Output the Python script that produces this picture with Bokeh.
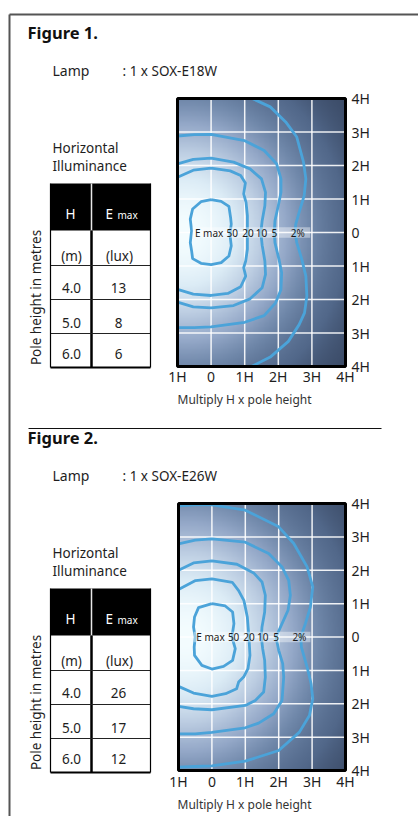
import numpy as np
from bokeh.plotting import figure
from bokeh.models import Range1d
from bokeh.core.properties import value
from bokeh.embed import file_html
from bokeh.resources import INLINE

# ---------------- data ----------------
figure_titles = ["Figure 1.", "Figure 2."]
lamp_types = [": 1 x SOX-E18W", ": 1 x SOX-E26W"]
pole_heights = ["4.0", "5.0", "6.0"]
emax_fig1 = ["13", "8", "6"]
emax_fig2 = ["26", "17", "12"]
x_ticks = [-1, 0, 1, 2, 3, 4]
x_tick_labels = ["1H", "0", "1H", "2H", "3H", "4H"]
y_ticks = [4, 3, 2, 1, 0, -1, -2, -3, -4]
y_tick_labels = ["4H", "3H", "2H", "1H", "0", "1H", "2H", "3H", "4H"]
contour_labels = ["E max", "50", "20", "10", "5", "2%"]
label_x_fig1 = [-0.06, 0.63, 1.10, 1.50, 1.88, 2.58]
label_x_fig2 = [-0.04, 0.65, 1.11, 1.52, 1.92, 2.62]

# Figure 1 isolux contours (H units)
f1_c50_x = [0.00, -0.30, -0.55, -0.62, -0.58, -0.62, -0.58, -0.55, -0.30, 0.00, 0.30, 0.53, 0.60, 0.56, 0.60, 0.58, 0.53, 0.30, 0.00]
f1_c50_y = [0.98, 0.92, 0.70, 0.40, 0.05, -0.30, -0.55, -0.78, -0.92, -0.96, -0.90, -0.70, -0.40, -0.05, 0.25, 0.45, 0.78, 0.93, 0.98]
f1_c20_x = [-1.0, -0.53, 0.0, 0.57, 0.88, 1.02, 0.97, 1.04, 1.08, 1.08, 1.08, 1.03, 0.97, 1.03, 0.88, 0.50, 0.0, -0.53, -1.0]
f1_c20_y = [1.65, 1.86, 1.92, 1.84, 1.70, 1.48, 1.15, 0.90, 0.50, 0.0, -0.50, -0.85, -1.05, -1.30, -1.62, -1.82, -1.88, -1.84, -1.70]
f1_c10_x = [-1.0, -0.53, 0.0, 0.67, 1.16, 1.50, 1.62, 1.60, 1.52, 1.48, 1.52, 1.60, 1.62, 1.52, 1.16, 0.67, 0.0, -0.53, -1.0]
f1_c10_y = [2.05, 2.18, 2.22, 2.10, 1.90, 1.60, 1.20, 0.80, 0.35, 0.0, -0.38, -0.85, -1.25, -1.65, -1.98, -2.18, -2.25, -2.22, -2.08]
f1_c5_x = [-1.0, -0.5, 0.0, 1.0, 1.58, 1.95, 2.08, 2.08, 2.00, 1.90, 1.88, 1.90, 2.02, 2.10, 2.08, 1.92, 1.58, 1.0, 0.0, -0.5, -1.0]
f1_c5_y = [2.88, 2.92, 2.93, 2.74, 2.45, 2.05, 1.60, 1.20, 0.80, 0.35, 0.0, -0.30, -0.80, -1.20, -1.70, -2.10, -2.48, -2.68, -2.82, -2.84, -2.84]
f1_c2_x = [1.22, 1.76, 2.22, 2.55, 2.75, 2.82, 2.77, 2.62, 2.52, 2.50, 2.55, 2.70, 2.82, 2.85, 2.78, 2.62, 2.30, 1.76, 1.20]
f1_c2_y = [4.0, 3.75, 3.30, 2.85, 2.10, 1.60, 1.10, 0.60, 0.25, 0.0, -0.30, -0.80, -1.30, -1.90, -2.40, -2.75, -3.25, -3.72, -4.0]

# Figure 2 isolux contours (H units)
f2_c50_x = [0.0, -0.40, -0.52, -0.55, -0.50, -0.53, -0.52, -0.30, 0.0, 0.35, 0.62, 0.70, 0.60, 0.66, 0.62, 0.40, 0.0]
f2_c50_y = [1.0, 0.88, 0.60, 0.30, 0.0, -0.30, -0.55, -0.85, -0.96, -0.88, -0.70, -0.35, 0.0, 0.40, 0.75, 0.93, 1.0]
f2_c20_x = [-1.0, -0.49, 0.0, 0.61, 0.80, 0.96, 1.06, 1.10, 1.12, 1.14, 1.08, 0.95, 0.80, 0.74, 0.41, 0.0, -0.55, -1.0]
f2_c20_y = [1.42, 1.69, 1.74, 1.64, 1.39, 1.09, 0.60, 0.10, -0.20, -0.55, -0.95, -1.20, -1.35, -1.55, -1.70, -1.78, -1.68, -1.48]
f2_c10_x = [-1.0, -0.55, 0.0, 0.75, 1.25, 1.50, 1.60, 1.58, 1.50, 1.48, 1.52, 1.58, 1.60, 1.55, 1.30, 1.0, 0.0, -0.55, -1.0]
f2_c10_y = [2.0, 2.22, 2.28, 2.18, 1.92, 1.65, 1.25, 0.75, 0.30, 0.0, -0.35, -0.70, -1.20, -1.65, -1.90, -2.05, -2.18, -2.15, -2.08]
f2_c5_x = [-1.0, -0.5, 0.0, 1.0, 1.70, 2.10, 2.30, 2.35, 2.28, 2.10, 1.92, 2.00, 2.12, 2.15, 2.10, 1.85, 1.40, 1.0, 0.0, -0.5, -1.0]
f2_c5_y = [2.79, 2.90, 2.94, 2.84, 2.50, 2.10, 1.70, 1.25, 0.80, 0.40, 0.0, -0.40, -0.80, -1.20, -1.90, -2.30, -2.58, -2.72, -2.86, -2.90, -2.90]
f2_c2_x = [-1.0, -0.5, 0.0, 1.0, 2.0, 2.45, 2.85, 3.02, 2.95, 2.80, 2.66, 2.68, 2.85, 2.97, 3.02, 2.92, 2.62, 2.0, 1.0, 0.0, -0.5, -1.0]
f2_c2_y = [3.93, 3.96, 3.96, 3.80, 3.30, 2.80, 2.10, 1.50, 0.90, 0.40, 0.0, -0.30, -0.90, -1.40, -1.85, -2.35, -2.85, -3.40, -3.72, -3.86, -3.88, -3.90]

# ---------------- styling ----------------
FONT = "Noto Sans"
TXT = "#1e1e1e"
CONTOUR = "#4ba3d9"
PX0, PX1, PY0, PY1 = 0, 418, 0, 816   # page coordinates of the canvas

def txt(size, **kw):
    d = dict(text_font=value(FONT), text_font_size=size, text_color=TXT,
             text_baseline="middle", text_align="left")
    d.update(kw)
    return d

p = figure(width=PX1 - PX0, height=PY1 - PY0, x_range=Range1d(PX0, PX1), y_range=Range1d(PY1, PY0),
           output_backend="svg", toolbar_location=None, min_border=0,
           x_axis_location=None, y_axis_location=None, outline_line_color=None,
           background_fill_color="white", border_fill_color="white")
p.grid.visible = False

panels = [
    dict(dy=0, box=(177, 98, 345, 366), title=figure_titles[0], lamp=lamp_types[0], emax=emax_fig1,
         lab_x=label_x_fig1,
         cx=[f1_c50_x, f1_c20_x, f1_c10_x, f1_c5_x, f1_c2_x],
         cy=[f1_c50_y, f1_c20_y, f1_c10_y, f1_c5_y, f1_c2_y]),
    dict(dy=405, box=(178, 503, 345, 770), title=figure_titles[1], lamp=lamp_types[1], emax=emax_fig2,
         lab_x=label_x_fig2,
         cx=[f2_c50_x, f2_c20_x, f2_c10_x, f2_c5_x, f2_c2_x],
         cy=[f2_c50_y, f2_c20_y, f2_c10_y, f2_c5_y, f2_c2_y]),
]

xr, yr = {}, {}
for i, pn in enumerate(panels):
    L, T, R, B = pn["box"]
    kx = (R - L) / 5.0
    ky = (B - T) / 8.0
    xr["h%d" % i] = Range1d(-1 - (L - PX0) / kx, 4 + (PX1 - R) / kx)
    yr["v%d" % i] = Range1d(-4 - (PY1 - B) / ky, 4 + (T - PY0) / ky)
p.extra_x_ranges = xr
p.extra_y_ranges = yr

# background gradient (decorative shading)
nx, ny = 200, 320
gx = np.linspace(-1, 4, nx)
gy = np.linspace(-4, 4, ny)
GX, GY = np.meshgrid(gx, gy)
stops_t = [0.0, 0.1, 0.25, 0.4, 0.6, 0.8, 1.0]
stops_c = [(0x34, 0x42, 0x5c), (0x52, 0x68, 0x8a), (0x70, 0x88, 0xaa), (0x94, 0xa8, 0xc8),
           (0xbc, 0xcd, 0xe2), (0xdc, 0xec, 0xf6), (0xf4, 0xfd, 0xff)]

def gradient(sx, sy):
    t = np.exp(-(((GX + 0.8) / sx) ** 2 + (GY / sy) ** 2))
    img = np.empty((ny, nx), dtype=np.uint32)
    v = img.view(dtype=np.uint8).reshape((ny, nx, 4))
    for ch in range(3):
        v[:, :, ch] = np.interp(t, stops_t, [c[ch] for c in stops_c]).astype(np.uint8)
    v[:, :, 3] = 255
    return img

# outer box
p.line(x=[9, 9], y=[14, 816], line_color="#555555", line_width=2)
p.line(x=[9, 418], y=[14, 14], line_color="#555555", line_width=2)
# separator
p.line(x=[28, 381], y=[428, 428], line_color="#111111", line_width=1.2)

for i, pn in enumerate(panels):
    dy = pn["dy"]
    XN, YN = "h%d" % i, "v%d" % i
    # titles
    p.text(x=[27], y=[32 + dy], text=[pn["title"]], **txt("16.5px", text_font_style="bold", text_color="#111111"))
    p.text(x=[52], y=[70 + dy], text=["Lamp"], **txt("14px"))
    p.text(x=[122], y=[70 + dy], text=[pn["lamp"]], **txt("13.5px"))

    # chart
    p.image_rgba(image=[gradient(3.2 if i == 0 else 3.4, 3.4 if i == 0 else 3.6)], x=-1, y=-4, dw=5, dh=8,
                 x_range_name=XN, y_range_name=YN)
    inner_x = [t for t in x_ticks if -1 < t < 4]
    inner_y = [t for t in y_ticks if -4 < t < 4]
    p.segment(x0=inner_x, x1=inner_x, y0=[-4] * len(inner_x), y1=[4] * len(inner_x),
              line_color="white", line_width=1.5, line_alpha=0.9, x_range_name=XN, y_range_name=YN)
    p.segment(x0=[-1] * len(inner_y), x1=[4] * len(inner_y), y0=inner_y, y1=inner_y,
              line_color="white", line_width=1.5, line_alpha=0.9, x_range_name=XN, y_range_name=YN)
    p.multi_line(xs=pn["cx"], ys=pn["cy"], line_color=CONTOUR, line_width=2.8,
                 line_join="round", x_range_name=XN, y_range_name=YN)
    p.quad(left=[-0.55], right=[2.95], bottom=[-0.16], top=[0.16], fill_color="white",
           fill_alpha=0.4, line_color=None, x_range_name=XN, y_range_name=YN)
    p.text(x=pn["lab_x"], y=[0] * len(contour_labels), text=contour_labels,
           x_range_name=XN, y_range_name=YN, **txt("10px", text_align="center", text_color="#1a1a1a"))
    p.quad(left=[-1], right=[4], bottom=[-4], top=[4], fill_color=None, line_color="black",
           line_width=3, x_range_name=XN, y_range_name=YN)
    # tick labels
    p.text(x=[351] * len(y_ticks), y=y_ticks, text=y_tick_labels, y_range_name=YN, **txt("14px"))
    p.text(x=x_ticks, y=[376 + dy] * len(x_ticks), text=x_tick_labels, x_range_name=XN,
           **txt("14px", text_align="center"))
    p.text(x=[177], y=[399 + dy], text=["Multiply H x pole height"], **txt("12px", text_color="#333333"))

    # table
    p.text(x=[52], y=[147 + dy], text=["Horizontal"], **txt("13.5px"))
    p.text(x=[52], y=[165 + dy], text=["Illuminance"], **txt("13.5px"))
    p.text(x=[35], y=[297 + dy], text=["Pole height in metres"], angle=np.pi / 2,
           **txt("13.5px", text_align="center"))
    p.quad(left=[50], right=[150], top=[183 + dy], bottom=[230 + dy], fill_color="black", line_color=None)
    p.line(x=[91, 91], y=[183 + dy, 230 + dy], line_color="#e8e8e8", line_width=1.5)
    p.line(x=[91, 91], y=[230 + dy, 367 + dy], line_color="black", line_width=2.5)
    for yy in [265, 299, 333]:
        p.line(x=[50, 150], y=[yy + dy, yy + dy], line_color="#222222", line_width=1)
    p.line(x=[50, 150], y=[367 + dy, 367 + dy], line_color="black", line_width=2.2)
    p.line(x=[50, 50], y=[183 + dy, 367 + dy], line_color="black", line_width=1.2)
    p.line(x=[150, 150], y=[183 + dy, 367 + dy], line_color="black", line_width=1.2)
    p.text(x=[70], y=[213 + dy], text=["H"], **txt("13.5px", text_align="center", text_color="white"))
    p.text(x=[105], y=[213 + dy], text=["E"], **txt("13.5px", text_color="white"))
    p.text(x=[117], y=[214 + dy], text=["max"], **txt("10px", text_color="white"))
    p.text(x=[71], y=[255 + dy], text=["(m)"], **txt("13.5px", text_align="center"))
    p.text(x=[119], y=[255 + dy], text=["(lux)"], **txt("13.5px", text_align="center"))
    row_y = [287 + dy, 322 + dy, 353 + dy]
    p.text(x=[71] * 3, y=row_y, text=pole_heights, **txt("13.5px", text_align="center"))
    p.text(x=[118] * 3, y=row_y, text=pn["emax"], **txt("13.5px", text_align="center"))

open("out.html", "w").write(file_html(p, INLINE))
